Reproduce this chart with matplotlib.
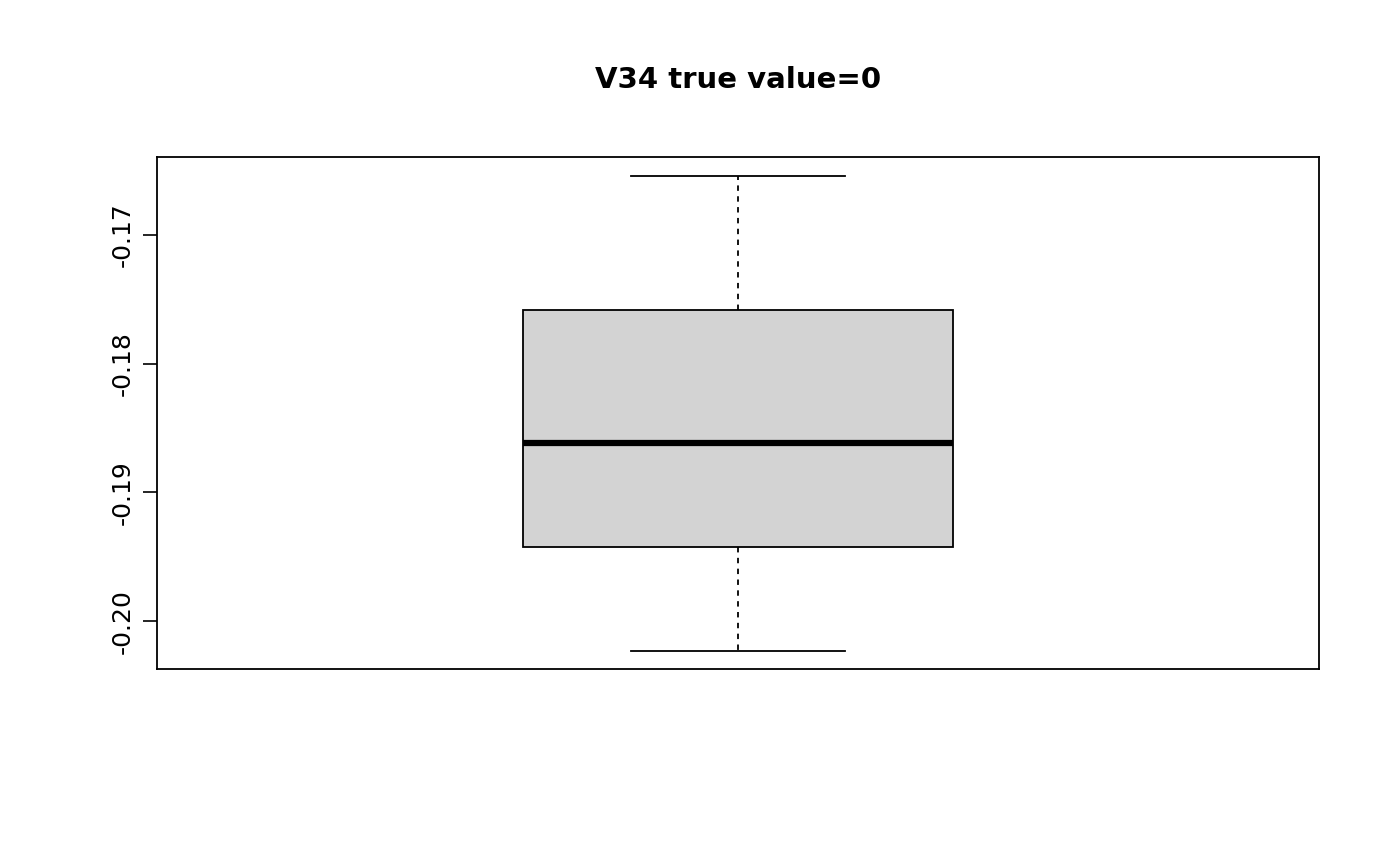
import matplotlib
matplotlib.use("Agg")
import matplotlib.pyplot as plt

labels = ["V34"]
whislo = [-0.20232]
q1 = [-0.19424]
med = [-0.18616]
q3 = [-0.17583]
whishi = [-0.16542]
yticks = [-0.20, -0.19, -0.18, -0.17]

fig = plt.figure(figsize=(14, 8.66), dpi=100)
ax = fig.add_axes([157/1400, 1-669/866, 1162/1400, 512/866])
stats = [dict(label=labels[i], whislo=whislo[i], q1=q1[i], med=med[i], q3=q3[i], whishi=whishi[i], fliers=[]) for i in range(len(labels))]
ax.bxp(stats, positions=[0.5], widths=0.37, capwidths=0.185, patch_artist=True, showfliers=False,
       boxprops=dict(facecolor="#d3d3d3", edgecolor="black", linewidth=1.3),
       medianprops=dict(color="black", linewidth=4.5, solid_capstyle="butt"),
       whiskerprops=dict(color="black", linestyle=(0, (3, 3)), linewidth=1.3),
       capprops=dict(color="black", linewidth=1.3))
ax.set_xlim(0, 1)
ax.set_ylim(-0.20372, -0.16394)
ax.set_xticks([])
ax.set_yticks(yticks)
ax.set_yticklabels([f"{v:.2f}" for v in yticks], rotation=90, va="center", fontsize=18)
ax.tick_params(axis="y", length=10, width=1.2, pad=6)
for s in ax.spines.values():
    s.set_linewidth(1.3)
fig.text(738/1400, 1-80/866, "V34 true value=0", ha="center", va="center", fontsize=21, fontweight="bold")
fig.savefig("out.png", dpi=100)
